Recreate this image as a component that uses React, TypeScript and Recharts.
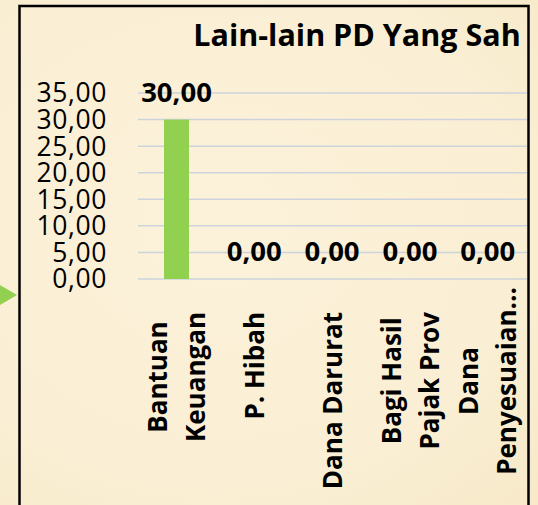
import React from "react";
import { BarChart, Bar, XAxis, YAxis, CartesianGrid } from "recharts";

const categories = ["Bantuan\nKeuangan", "P. Hibah", "Dana Darurat", "Bagi Hasil\nPajak Prov", "Dana\nPenyesuaian..."];
const values = [30, 0, 0, 0, 0];
const yTicks = [0, 5, 10, 15, 20, 25, 30, 35];
const title = "Lain-lain PD Yang Sah";

const FONT = "'Open Sans', 'Noto Sans', sans-serif";
const fmt = (v: number) => v.toFixed(2).replace(".", ",");

const chartData = categories.map((name, i) => ({ name, value: values[i] }));

let ctx: CanvasRenderingContext2D | null = null;
function measure(text: string, font: string) {
  if (!ctx) ctx = document.createElement("canvas").getContext("2d");
  if (!ctx) return text.length * 14;
  ctx.font = font;
  return ctx.measureText(text).width;
}

// rotated multi-line category labels, lines centred within the block
function CategoryTick(props: any) {
  const { x, y, payload } = props;
  const lines: string[] = String(payload.value).split("\n");
  const fontSize = 26;
  const longest = Math.max(...lines.map((l) => measure(l, `bold ${fontSize}px ${FONT}`)));
  const truncated = lines.some((l) => l.endsWith("..."));
  const cy = truncated ? y + 102 : y + 33 + longest / 2;
  const gap = 38;
  return (
    <g>
      {lines.map((line, i) => {
        const lx = x + (i - (lines.length - 1) / 2) * gap;
        return (
          <text
            key={i}
            x={lx}
            y={cy}
            dy="0.36em"
            transform={`rotate(-90, ${lx}, ${cy})`}
            textAnchor="middle"
            fontFamily={FONT}
            fontWeight="bold"
            fontSize={fontSize}
            fill="#000"
          >
            {line}
          </text>
        );
      })}
    </g>
  );
}

// bar plus its value label (drawn even when the bar has zero height)
function BarWithLabel(props: any) {
  const { x, y, width, height, value, fill } = props;
  const v = Array.isArray(value) ? value[1] - value[0] : value;
  return (
    <g>
      {height > 0 && <rect x={x} y={y} width={width} height={height} fill={fill} />}
      <text
        x={x + width / 2}
        y={y - 18}
        textAnchor="middle"
        fontFamily={FONT}
        fontWeight="bold"
        fontSize={27.5}
        fill="#000"
      >
        {fmt(v)}
      </text>
    </g>
  );
}

export default function App() {
  return (
    <div
      style={{
        position: "absolute",
        left: 0,
        top: 0,
        width: 538,
        height: 505,
        overflow: "hidden",
        background: "radial-gradient(ellipse at 40% 45%, #fcf2da 0%, #faefd4 65%, #f7e9c9 100%)",
      }}
    >
      <BarChart
        width={538}
        height={505}
        data={chartData}
        margin={{ top: 93, right: 11, bottom: 0, left: 0 }}
        barSize={25}
      >
        <CartesianGrid vertical={false} stroke="#cdd3dc" strokeWidth={1.5} />
        <XAxis
          dataKey="name"
          height={226}
          axisLine={false}
          tickLine={false}
          tickSize={0}
          tickMargin={0}
          interval={0}
          tick={<CategoryTick />}
        />
        <YAxis
          width={138}
          domain={[0, 35]}
          ticks={yTicks}
          interval={0}
          axisLine={false}
          tickLine={false}
          tickSize={0}
          tickMargin={31}
          tickFormatter={fmt}
          tick={{ fontFamily: FONT, fontSize: 26.5, letterSpacing: 0.6, fill: "#000" }}
        />
        <Bar dataKey="value" fill="#92d050" isAnimationActive={false} shape={<BarWithLabel />} />
      </BarChart>
      <svg
        width={538}
        height={505}
        style={{ position: "absolute", left: 0, top: 0, pointerEvents: "none" }}
      >
        <rect x={19.5} y={6} width={509} height={520} fill="none" stroke="#000" strokeWidth={2.5} />
        <polygon points="0,285 17,295 0,305" fill="#92d050" />
        <text
          x={357}
          y={46}
          textAnchor="middle"
          fontFamily={FONT}
          fontWeight="bold"
          fontSize={30.5}
          fill="#000"
        >
          {title}
        </text>
      </svg>
    </div>
  );
}
